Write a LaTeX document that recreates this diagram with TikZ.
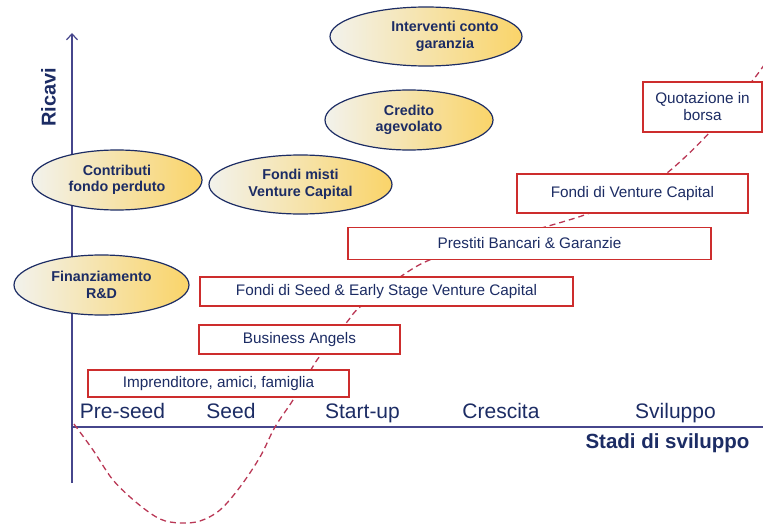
\documentclass[tikz,border=0pt]{standalone}
\usepackage{fontspec}
\setmainfont{Liberation Sans}
\usetikzlibrary{shapes.geometric,arrows.meta}

\definecolor{navy}{RGB}{28,44,100}
\definecolor{axisblue}{RGB}{70,70,140}
\definecolor{boxred}{RGB}{205,45,45}
\definecolor{curvered}{RGB}{185,55,85}
\definecolor{paleleft}{RGB}{242,242,236}
\definecolor{goldright}{RGB}{250,212,105}

\tikzset{
  fund/.style={ellipse, draw=navy, line width=1.2pt, left color=paleleft,
    right color=goldright, inner sep=0pt},
  fundtext/.style={text=navy, font=\fontsize{14.3}{16.5}\selectfont\bfseries,
    align=center, inner sep=0pt},
  stagebox/.style={draw=boxred, line width=1.4pt, fill=white, text=navy,
    font=\fontsize{15.3}{17}\selectfont, inner sep=0pt, align=center},
  stagelabel/.style={text=navy, font=\fontsize{21}{21}\selectfont, anchor=base, inner sep=0pt},
  axisline/.style={draw=axisblue, line width=1.4pt},
  jcurve/.style={draw=curvered, line width=1.3pt, dash pattern=on 6pt off 4pt},
}

\begin{document}
\begin{tikzpicture}[x=1pt,y=-1pt]
\useasboundingbox (0,0) rectangle (763,524);

% axes
\coordinate (origin) at (72,427);
\coordinate (ytop) at (72,33);
\coordinate (ybot) at (72,483);
\coordinate (xend) at (763,427);
\draw[axisline, -{Straight Barb[length=6pt,width=11pt,line width=1.2pt]}] (ybot) -- (ytop);
\draw[axisline] (origin) -- (xend);

\node[rotate=90, text=navy, font=\fontsize{20}{20}\selectfont\bfseries] (ricavi) at (48.5,97.5) {Ricavi};
\node[text=navy, font=\fontsize{20.5}{20.5}\selectfont\bfseries, anchor=base] (stadi) at (667.5,448) {Stadi di sviluppo};

% development stages along the x axis
\node[stagelabel] (preseed) at (122.5,418) {Pre-seed};
\node[stagelabel] (seed) at (231,418) {Seed};
\node[stagelabel] (startup) at (362.5,418) {Start-up};
\node[stagelabel] (crescita) at (501,418) {Crescita};
\node[stagelabel] (sviluppo) at (675.5,418) {Sviluppo};

% revenue J-curve
\draw[jcurve] plot[smooth, tension=0.55] coordinates {
  (74,424) (93,450) (113,480) (137,503) (160,519) (180,523) (200,521)
  (220,510) (240,487) (260,457) (275,427) (293,400) (312,368) (320,356)
  (347,322) (360,307) (400,277) (432,259) (490,242) (545,227) (590,213)
  (632,194) (667,173) (710,132) (753,80) (766,62)};

% financing sources
\node[stagebox, minimum width=261pt, minimum height=27pt] (famiglia) at (218.5,383.5) {Imprenditore, amici, famiglia};
\node[stagebox, minimum width=201pt, minimum height=29pt] (angels) at (299.5,339.5) {Business Angels};
\node[stagebox, minimum width=373pt, minimum height=29pt] (seedvc) at (386.5,291.5) {Fondi di Seed \& Early Stage Venture Capital};
\node[stagebox, minimum width=363pt, minimum height=32pt] (prestiti) at (529.5,243.5) {Prestiti Bancari \& Garanzie};
\node[stagebox, minimum width=231pt, minimum height=39pt] (fvc) at (632.5,193.5) {Fondi di Venture Capital};
\node[stagebox, minimum width=119pt, minimum height=50pt] (borsa) at (702.5,107) {Quotazione in\\borsa};

% public and mixed instruments
\node[fund, minimum width=192pt, minimum height=59pt] (garanzia) at (426,36.5) {};
\node[fundtext] (garanziatxt) at (445,36.5) {Interventi conto\\garanzia};
\node[fund, minimum width=168pt, minimum height=60pt] (credito) at (409,120) {};
\node[fundtext] at (credito) {Credito\\agevolato};
\node[fund, minimum width=170pt, minimum height=60pt] (contributi) at (117,180) {};
\node[fundtext] at (contributi) {Contributi\\fondo perduto};
\node[fund, minimum width=183pt, minimum height=59pt] (misti) at (300.5,184.5) {};
\node[fundtext] at (misti) {Fondi misti\\Venture Capital};
\node[fund, minimum width=175pt, minimum height=60pt] (rd) at (101.5,285) {};
\node[fundtext] at (rd) {Finanziamento\\R\&D};
\end{tikzpicture}
\end{document}
